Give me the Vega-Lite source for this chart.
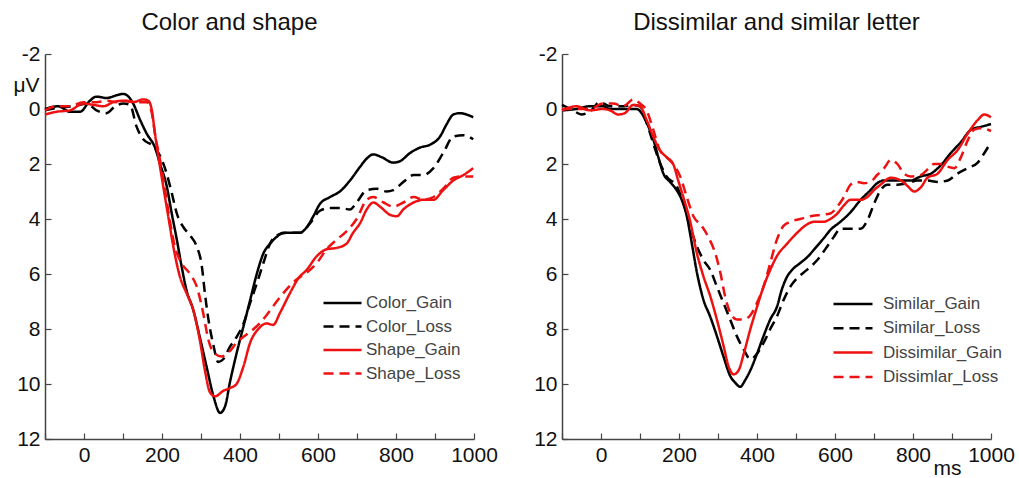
{
  "$schema": "https://vega.github.io/schema/vega-lite/v6.json",
  "background": "white",
  "padding": {"left": 12, "top": 11, "right": 5, "bottom": 3},
  "bounds": "flush",
  "spacing": 88,
  "config": {
    "view": {"stroke": null},
    "font": "Liberation Sans",
    "axis": {
      "domainColor": "#444",
      "domainWidth": 1.5,
      "tickColor": "#444",
      "tickWidth": 1.2,
      "tickSize": -6,
      "grid": false,
      "labelFlush": false,
      "labelFont": "Liberation Sans",
      "labelFontSize": 21,
      "labelColor": "#111",
      "titleFont": "Liberation Sans",
      "titleFontWeight": "normal",
      "titleColor": "#111"
    },
    "title": {"font": "Liberation Sans", "fontSize": 24, "fontWeight": "normal", "color": "#111"}
  },
  "datasets": {
    "left": [
      {"s":"Color_Gain","t":-100,"v":0.0},{"s":"Color_Gain","t":-66,"v":-0.1},{"s":"Color_Gain","t":-36,"v":0.1},{"s":"Color_Gain","t":-10,"v":0.1},{"s":"Color_Gain","t":15,"v":-0.3},{"s":"Color_Gain","t":32,"v":-0.45},{"s":"Color_Gain","t":58,"v":-0.4},{"s":"Color_Gain","t":84,"v":-0.5},{"s":"Color_Gain","t":101,"v":-0.55},{"s":"Color_Gain","t":114,"v":-0.45},{"s":"Color_Gain","t":126,"v":-0.2},{"s":"Color_Gain","t":144,"v":0.4},{"s":"Color_Gain","t":161,"v":0.9},{"s":"Color_Gain","t":182,"v":1.4},{"s":"Color_Gain","t":195,"v":2.0},{"s":"Color_Gain","t":212,"v":2.8},{"s":"Color_Gain","t":225,"v":3.8},{"s":"Color_Gain","t":238,"v":4.75},{"s":"Color_Gain","t":250,"v":5.7},{"s":"Color_Gain","t":263,"v":6.6},{"s":"Color_Gain","t":280,"v":7.3},{"s":"Color_Gain","t":297,"v":8.3},{"s":"Color_Gain","t":314,"v":9.35},{"s":"Color_Gain","t":332,"v":10.45},{"s":"Color_Gain","t":349,"v":11.05},{"s":"Color_Gain","t":362,"v":10.8},{"s":"Color_Gain","t":374,"v":9.95},{"s":"Color_Gain","t":391,"v":8.9},{"s":"Color_Gain","t":409,"v":7.9},{"s":"Color_Gain","t":426,"v":6.95},{"s":"Color_Gain","t":443,"v":6.0},{"s":"Color_Gain","t":460,"v":5.25},{"s":"Color_Gain","t":477,"v":4.9},{"s":"Color_Gain","t":494,"v":4.65},{"s":"Color_Gain","t":511,"v":4.5},{"s":"Color_Gain","t":537,"v":4.5},{"s":"Color_Gain","t":554,"v":4.5},{"s":"Color_Gain","t":571,"v":4.3},{"s":"Color_Gain","t":588,"v":3.9},{"s":"Color_Gain","t":605,"v":3.45},{"s":"Color_Gain","t":631,"v":3.2},{"s":"Color_Gain","t":656,"v":3.0},{"s":"Color_Gain","t":682,"v":2.6},{"s":"Color_Gain","t":708,"v":2.1},{"s":"Color_Gain","t":725,"v":1.8},{"s":"Color_Gain","t":742,"v":1.65},{"s":"Color_Gain","t":763,"v":1.75},{"s":"Color_Gain","t":793,"v":1.95},{"s":"Color_Gain","t":810,"v":1.9},{"s":"Color_Gain","t":836,"v":1.6},{"s":"Color_Gain","t":862,"v":1.4},{"s":"Color_Gain","t":887,"v":1.3},{"s":"Color_Gain","t":913,"v":1.0},{"s":"Color_Gain","t":930,"v":0.55},{"s":"Color_Gain","t":947,"v":0.2},{"s":"Color_Gain","t":964,"v":0.15},{"s":"Color_Gain","t":981,"v":0.2},{"s":"Color_Gain","t":998,"v":0.3},
      {"s":"Color_Loss","t":-100,"v":0.05},{"s":"Color_Loss","t":-66,"v":-0.05},{"s":"Color_Loss","t":-27,"v":-0.1},{"s":"Color_Loss","t":7,"v":-0.2},{"s":"Color_Loss","t":32,"v":0.05},{"s":"Color_Loss","t":58,"v":0.15},{"s":"Color_Loss","t":80,"v":-0.1},{"s":"Color_Loss","t":101,"v":-0.2},{"s":"Color_Loss","t":118,"v":-0.15},{"s":"Color_Loss","t":135,"v":0.65},{"s":"Color_Loss","t":152,"v":1.1},{"s":"Color_Loss","t":178,"v":1.35},{"s":"Color_Loss","t":195,"v":1.7},{"s":"Color_Loss","t":212,"v":2.35},{"s":"Color_Loss","t":225,"v":3.05},{"s":"Color_Loss","t":238,"v":3.8},{"s":"Color_Loss","t":255,"v":4.3},{"s":"Color_Loss","t":272,"v":4.6},{"s":"Color_Loss","t":289,"v":5.0},{"s":"Color_Loss","t":302,"v":5.7},{"s":"Color_Loss","t":310,"v":6.7},{"s":"Color_Loss","t":319,"v":7.65},{"s":"Color_Loss","t":332,"v":8.6},{"s":"Color_Loss","t":344,"v":9.2},{"s":"Color_Loss","t":357,"v":9.1},{"s":"Color_Loss","t":374,"v":8.65},{"s":"Color_Loss","t":391,"v":8.3},{"s":"Color_Loss","t":409,"v":7.8},{"s":"Color_Loss","t":426,"v":7.05},{"s":"Color_Loss","t":443,"v":6.35},{"s":"Color_Loss","t":460,"v":5.6},{"s":"Color_Loss","t":477,"v":4.9},{"s":"Color_Loss","t":494,"v":4.6},{"s":"Color_Loss","t":520,"v":4.5},{"s":"Color_Loss","t":554,"v":4.5},{"s":"Color_Loss","t":580,"v":4.15},{"s":"Color_Loss","t":605,"v":3.7},{"s":"Color_Loss","t":631,"v":3.6},{"s":"Color_Loss","t":656,"v":3.6},{"s":"Color_Loss","t":682,"v":3.65},{"s":"Color_Loss","t":699,"v":3.4},{"s":"Color_Loss","t":725,"v":2.95},{"s":"Color_Loss","t":750,"v":2.9},{"s":"Color_Loss","t":776,"v":3.0},{"s":"Color_Loss","t":793,"v":2.95},{"s":"Color_Loss","t":819,"v":2.65},{"s":"Color_Loss","t":845,"v":2.4},{"s":"Color_Loss","t":870,"v":2.4},{"s":"Color_Loss","t":896,"v":2.15},{"s":"Color_Loss","t":921,"v":1.6},{"s":"Color_Loss","t":947,"v":1.0},{"s":"Color_Loss","t":973,"v":0.95},{"s":"Color_Loss","t":998,"v":1.1},
      {"s":"Shape_Gain","t":-100,"v":0.2},{"s":"Shape_Gain","t":-70,"v":0.1},{"s":"Shape_Gain","t":-36,"v":0.05},{"s":"Shape_Gain","t":-2,"v":-0.2},{"s":"Shape_Gain","t":24,"v":-0.15},{"s":"Shape_Gain","t":50,"v":-0.1},{"s":"Shape_Gain","t":75,"v":-0.25},{"s":"Shape_Gain","t":101,"v":-0.3},{"s":"Shape_Gain","t":126,"v":-0.25},{"s":"Shape_Gain","t":152,"v":-0.35},{"s":"Shape_Gain","t":165,"v":-0.3},{"s":"Shape_Gain","t":174,"v":0.05},{"s":"Shape_Gain","t":182,"v":0.9},{"s":"Shape_Gain","t":191,"v":1.75},{"s":"Shape_Gain","t":203,"v":2.8},{"s":"Shape_Gain","t":216,"v":3.9},{"s":"Shape_Gain","t":229,"v":5.0},{"s":"Shape_Gain","t":246,"v":6.1},{"s":"Shape_Gain","t":263,"v":6.7},{"s":"Shape_Gain","t":280,"v":7.3},{"s":"Shape_Gain","t":297,"v":8.4},{"s":"Shape_Gain","t":310,"v":9.5},{"s":"Shape_Gain","t":323,"v":10.3},{"s":"Shape_Gain","t":336,"v":10.45},{"s":"Shape_Gain","t":357,"v":10.25},{"s":"Shape_Gain","t":374,"v":10.15},{"s":"Shape_Gain","t":391,"v":10.0},{"s":"Shape_Gain","t":409,"v":9.35},{"s":"Shape_Gain","t":426,"v":8.5},{"s":"Shape_Gain","t":447,"v":8.0},{"s":"Shape_Gain","t":468,"v":7.8},{"s":"Shape_Gain","t":485,"v":7.85},{"s":"Shape_Gain","t":503,"v":7.4},{"s":"Shape_Gain","t":528,"v":6.7},{"s":"Shape_Gain","t":550,"v":6.15},{"s":"Shape_Gain","t":571,"v":5.85},{"s":"Shape_Gain","t":597,"v":5.35},{"s":"Shape_Gain","t":622,"v":5.1},{"s":"Shape_Gain","t":648,"v":5.05},{"s":"Shape_Gain","t":673,"v":4.9},{"s":"Shape_Gain","t":690,"v":4.5},{"s":"Shape_Gain","t":708,"v":4.15},{"s":"Shape_Gain","t":725,"v":3.65},{"s":"Shape_Gain","t":742,"v":3.4},{"s":"Shape_Gain","t":759,"v":3.55},{"s":"Shape_Gain","t":785,"v":3.85},{"s":"Shape_Gain","t":802,"v":3.9},{"s":"Shape_Gain","t":819,"v":3.65},{"s":"Shape_Gain","t":845,"v":3.4},{"s":"Shape_Gain","t":870,"v":3.3},{"s":"Shape_Gain","t":896,"v":3.3},{"s":"Shape_Gain","t":921,"v":2.95},{"s":"Shape_Gain","t":947,"v":2.6},{"s":"Shape_Gain","t":973,"v":2.4},{"s":"Shape_Gain","t":998,"v":2.15},
      {"s":"Shape_Loss","t":-100,"v":0.05},{"s":"Shape_Loss","t":-70,"v":-0.1},{"s":"Shape_Loss","t":-36,"v":-0.1},{"s":"Shape_Loss","t":-2,"v":-0.25},{"s":"Shape_Loss","t":32,"v":-0.25},{"s":"Shape_Loss","t":58,"v":-0.3},{"s":"Shape_Loss","t":84,"v":-0.25},{"s":"Shape_Loss","t":109,"v":-0.3},{"s":"Shape_Loss","t":135,"v":-0.25},{"s":"Shape_Loss","t":161,"v":-0.25},{"s":"Shape_Loss","t":174,"v":0.15},{"s":"Shape_Loss","t":182,"v":0.9},{"s":"Shape_Loss","t":195,"v":1.85},{"s":"Shape_Loss","t":208,"v":2.95},{"s":"Shape_Loss","t":220,"v":4.05},{"s":"Shape_Loss","t":233,"v":5.0},{"s":"Shape_Loss","t":250,"v":5.6},{"s":"Shape_Loss","t":272,"v":6.0},{"s":"Shape_Loss","t":289,"v":6.45},{"s":"Shape_Loss","t":306,"v":7.45},{"s":"Shape_Loss","t":319,"v":8.4},{"s":"Shape_Loss","t":336,"v":8.9},{"s":"Shape_Loss","t":353,"v":9.0},{"s":"Shape_Loss","t":374,"v":8.8},{"s":"Shape_Loss","t":391,"v":8.5},{"s":"Shape_Loss","t":417,"v":8.2},{"s":"Shape_Loss","t":443,"v":7.9},{"s":"Shape_Loss","t":468,"v":7.5},{"s":"Shape_Loss","t":494,"v":7.0},{"s":"Shape_Loss","t":520,"v":6.55},{"s":"Shape_Loss","t":545,"v":6.2},{"s":"Shape_Loss","t":571,"v":5.95},{"s":"Shape_Loss","t":597,"v":5.6},{"s":"Shape_Loss","t":622,"v":5.1},{"s":"Shape_Loss","t":648,"v":4.75},{"s":"Shape_Loss","t":673,"v":4.45},{"s":"Shape_Loss","t":699,"v":4.0},{"s":"Shape_Loss","t":725,"v":3.3},{"s":"Shape_Loss","t":742,"v":3.2},{"s":"Shape_Loss","t":768,"v":3.4},{"s":"Shape_Loss","t":793,"v":3.55},{"s":"Shape_Loss","t":819,"v":3.4},{"s":"Shape_Loss","t":845,"v":3.2},{"s":"Shape_Loss","t":870,"v":3.3},{"s":"Shape_Loss","t":896,"v":3.2},{"s":"Shape_Loss","t":921,"v":2.9},{"s":"Shape_Loss","t":947,"v":2.5},{"s":"Shape_Loss","t":973,"v":2.45},{"s":"Shape_Loss","t":998,"v":2.45}
    ],
    "right": [
      {"s":"Similar_Gain","t":-100,"v":0.05},{"s":"Similar_Gain","t":-63,"v":0.0},{"s":"Similar_Gain","t":-29,"v":-0.1},{"s":"Similar_Gain","t":5,"v":-0.1},{"s":"Similar_Gain","t":23,"v":0.0},{"s":"Similar_Gain","t":57,"v":0.0},{"s":"Similar_Gain","t":91,"v":0.0},{"s":"Similar_Gain","t":104,"v":0.15},{"s":"Similar_Gain","t":117,"v":0.5},{"s":"Similar_Gain","t":134,"v":1.1},{"s":"Similar_Gain","t":147,"v":1.75},{"s":"Similar_Gain","t":160,"v":2.35},{"s":"Similar_Gain","t":177,"v":2.65},{"s":"Similar_Gain","t":194,"v":2.95},{"s":"Similar_Gain","t":207,"v":3.3},{"s":"Similar_Gain","t":220,"v":3.9},{"s":"Similar_Gain","t":233,"v":4.9},{"s":"Similar_Gain","t":246,"v":5.95},{"s":"Similar_Gain","t":263,"v":6.95},{"s":"Similar_Gain","t":280,"v":7.55},{"s":"Similar_Gain","t":297,"v":8.25},{"s":"Similar_Gain","t":314,"v":9.0},{"s":"Similar_Gain","t":331,"v":9.7},{"s":"Similar_Gain","t":344,"v":9.95},{"s":"Similar_Gain","t":357,"v":10.1},{"s":"Similar_Gain","t":370,"v":9.85},{"s":"Similar_Gain","t":383,"v":9.5},{"s":"Similar_Gain","t":400,"v":8.9},{"s":"Similar_Gain","t":417,"v":8.25},{"s":"Similar_Gain","t":434,"v":7.65},{"s":"Similar_Gain","t":451,"v":7.2},{"s":"Similar_Gain","t":464,"v":6.55},{"s":"Similar_Gain","t":477,"v":6.1},{"s":"Similar_Gain","t":490,"v":5.85},{"s":"Similar_Gain","t":511,"v":5.6},{"s":"Similar_Gain","t":528,"v":5.4},{"s":"Similar_Gain","t":550,"v":5.05},{"s":"Similar_Gain","t":571,"v":4.7},{"s":"Similar_Gain","t":588,"v":4.4},{"s":"Similar_Gain","t":614,"v":4.1},{"s":"Similar_Gain","t":640,"v":3.75},{"s":"Similar_Gain","t":666,"v":3.3},{"s":"Similar_Gain","t":691,"v":2.95},{"s":"Similar_Gain","t":708,"v":2.7},{"s":"Similar_Gain","t":726,"v":2.6},{"s":"Similar_Gain","t":751,"v":2.6},{"s":"Similar_Gain","t":777,"v":2.6},{"s":"Similar_Gain","t":794,"v":2.6},{"s":"Similar_Gain","t":820,"v":2.45},{"s":"Similar_Gain","t":846,"v":2.35},{"s":"Similar_Gain","t":871,"v":2.05},{"s":"Similar_Gain","t":897,"v":1.6},{"s":"Similar_Gain","t":923,"v":1.2},{"s":"Similar_Gain","t":949,"v":0.75},{"s":"Similar_Gain","t":974,"v":0.65},{"s":"Similar_Gain","t":1000,"v":0.55},
      {"s":"Similar_Loss","t":-100,"v":-0.15},{"s":"Similar_Loss","t":-72,"v":0.05},{"s":"Similar_Loss","t":-50,"v":0.2},{"s":"Similar_Loss","t":-25,"v":0.05},{"s":"Similar_Loss","t":-3,"v":-0.25},{"s":"Similar_Loss","t":23,"v":-0.1},{"s":"Similar_Loss","t":57,"v":-0.1},{"s":"Similar_Loss","t":83,"v":-0.15},{"s":"Similar_Loss","t":100,"v":-0.1},{"s":"Similar_Loss","t":117,"v":0.5},{"s":"Similar_Loss","t":134,"v":1.25},{"s":"Similar_Loss","t":151,"v":1.95},{"s":"Similar_Loss","t":168,"v":2.45},{"s":"Similar_Loss","t":194,"v":2.8},{"s":"Similar_Loss","t":211,"v":3.4},{"s":"Similar_Loss","t":228,"v":4.25},{"s":"Similar_Loss","t":246,"v":5.0},{"s":"Similar_Loss","t":263,"v":5.5},{"s":"Similar_Loss","t":280,"v":5.85},{"s":"Similar_Loss","t":297,"v":6.45},{"s":"Similar_Loss","t":314,"v":7.05},{"s":"Similar_Loss","t":331,"v":7.65},{"s":"Similar_Loss","t":348,"v":8.25},{"s":"Similar_Loss","t":366,"v":8.75},{"s":"Similar_Loss","t":383,"v":9.1},{"s":"Similar_Loss","t":400,"v":8.9},{"s":"Similar_Loss","t":417,"v":8.5},{"s":"Similar_Loss","t":434,"v":8.0},{"s":"Similar_Loss","t":451,"v":7.55},{"s":"Similar_Loss","t":468,"v":6.95},{"s":"Similar_Loss","t":486,"v":6.45},{"s":"Similar_Loss","t":503,"v":6.15},{"s":"Similar_Loss","t":528,"v":5.85},{"s":"Similar_Loss","t":554,"v":5.5},{"s":"Similar_Loss","t":580,"v":5.0},{"s":"Similar_Loss","t":597,"v":4.65},{"s":"Similar_Loss","t":614,"v":4.35},{"s":"Similar_Loss","t":640,"v":4.35},{"s":"Similar_Loss","t":666,"v":4.35},{"s":"Similar_Loss","t":683,"v":4.05},{"s":"Similar_Loss","t":700,"v":3.45},{"s":"Similar_Loss","t":717,"v":2.95},{"s":"Similar_Loss","t":734,"v":2.75},{"s":"Similar_Loss","t":760,"v":2.75},{"s":"Similar_Loss","t":786,"v":2.7},{"s":"Similar_Loss","t":812,"v":2.6},{"s":"Similar_Loss","t":837,"v":2.6},{"s":"Similar_Loss","t":863,"v":2.65},{"s":"Similar_Loss","t":889,"v":2.6},{"s":"Similar_Loss","t":914,"v":2.35},{"s":"Similar_Loss","t":940,"v":2.15},{"s":"Similar_Loss","t":966,"v":1.95},{"s":"Similar_Loss","t":983,"v":1.6},{"s":"Similar_Loss","t":1000,"v":1.2},
      {"s":"Dissimilar_Gain","t":-100,"v":0.05},{"s":"Dissimilar_Gain","t":-63,"v":-0.1},{"s":"Dissimilar_Gain","t":-29,"v":0.05},{"s":"Dissimilar_Gain","t":5,"v":0.0},{"s":"Dissimilar_Gain","t":23,"v":0.05},{"s":"Dissimilar_Gain","t":44,"v":0.2},{"s":"Dissimilar_Gain","t":61,"v":0.15},{"s":"Dissimilar_Gain","t":83,"v":-0.15},{"s":"Dissimilar_Gain","t":100,"v":-0.1},{"s":"Dissimilar_Gain","t":117,"v":0.4},{"s":"Dissimilar_Gain","t":134,"v":1.0},{"s":"Dissimilar_Gain","t":151,"v":1.5},{"s":"Dissimilar_Gain","t":168,"v":1.75},{"s":"Dissimilar_Gain","t":185,"v":2.0},{"s":"Dissimilar_Gain","t":198,"v":2.6},{"s":"Dissimilar_Gain","t":211,"v":3.2},{"s":"Dissimilar_Gain","t":228,"v":4.05},{"s":"Dissimilar_Gain","t":246,"v":5.25},{"s":"Dissimilar_Gain","t":263,"v":6.1},{"s":"Dissimilar_Gain","t":280,"v":6.8},{"s":"Dissimilar_Gain","t":297,"v":7.65},{"s":"Dissimilar_Gain","t":314,"v":8.6},{"s":"Dissimilar_Gain","t":327,"v":9.35},{"s":"Dissimilar_Gain","t":340,"v":9.65},{"s":"Dissimilar_Gain","t":353,"v":9.5},{"s":"Dissimilar_Gain","t":366,"v":8.9},{"s":"Dissimilar_Gain","t":383,"v":8.0},{"s":"Dissimilar_Gain","t":400,"v":7.2},{"s":"Dissimilar_Gain","t":417,"v":6.45},{"s":"Dissimilar_Gain","t":434,"v":5.85},{"s":"Dissimilar_Gain","t":451,"v":5.35},{"s":"Dissimilar_Gain","t":477,"v":4.9},{"s":"Dissimilar_Gain","t":503,"v":4.5},{"s":"Dissimilar_Gain","t":528,"v":4.2},{"s":"Dissimilar_Gain","t":546,"v":4.1},{"s":"Dissimilar_Gain","t":571,"v":4.1},{"s":"Dissimilar_Gain","t":588,"v":4.0},{"s":"Dissimilar_Gain","t":606,"v":3.8},{"s":"Dissimilar_Gain","t":623,"v":3.5},{"s":"Dissimilar_Gain","t":640,"v":3.3},{"s":"Dissimilar_Gain","t":666,"v":3.3},{"s":"Dissimilar_Gain","t":683,"v":3.2},{"s":"Dissimilar_Gain","t":700,"v":2.95},{"s":"Dissimilar_Gain","t":717,"v":2.75},{"s":"Dissimilar_Gain","t":743,"v":2.5},{"s":"Dissimilar_Gain","t":769,"v":2.6},{"s":"Dissimilar_Gain","t":786,"v":2.8},{"s":"Dissimilar_Gain","t":803,"v":3.0},{"s":"Dissimilar_Gain","t":820,"v":2.85},{"s":"Dissimilar_Gain","t":837,"v":2.5},{"s":"Dissimilar_Gain","t":863,"v":2.35},{"s":"Dissimilar_Gain","t":889,"v":1.85},{"s":"Dissimilar_Gain","t":914,"v":1.5},{"s":"Dissimilar_Gain","t":940,"v":0.9},{"s":"Dissimilar_Gain","t":966,"v":0.4},{"s":"Dissimilar_Gain","t":983,"v":0.2},{"s":"Dissimilar_Gain","t":1000,"v":0.3},
      {"s":"Dissimlar_Loss","t":-100,"v":0.0},{"s":"Dissimlar_Loss","t":-63,"v":0.0},{"s":"Dissimlar_Loss","t":-29,"v":0.0},{"s":"Dissimlar_Loss","t":5,"v":-0.2},{"s":"Dissimlar_Loss","t":31,"v":-0.2},{"s":"Dissimlar_Loss","t":57,"v":-0.1},{"s":"Dissimlar_Loss","t":83,"v":-0.35},{"s":"Dissimlar_Loss","t":100,"v":-0.2},{"s":"Dissimlar_Loss","t":117,"v":0.05},{"s":"Dissimlar_Loss","t":134,"v":0.75},{"s":"Dissimlar_Loss","t":151,"v":1.5},{"s":"Dissimlar_Loss","t":168,"v":1.75},{"s":"Dissimlar_Loss","t":185,"v":2.0},{"s":"Dissimlar_Loss","t":203,"v":2.45},{"s":"Dissimlar_Loss","t":220,"v":3.2},{"s":"Dissimlar_Loss","t":237,"v":3.9},{"s":"Dissimlar_Loss","t":258,"v":4.25},{"s":"Dissimlar_Loss","t":275,"v":4.65},{"s":"Dissimlar_Loss","t":293,"v":5.25},{"s":"Dissimlar_Loss","t":306,"v":5.95},{"s":"Dissimlar_Loss","t":318,"v":6.8},{"s":"Dissimlar_Loss","t":331,"v":7.4},{"s":"Dissimlar_Loss","t":348,"v":7.65},{"s":"Dissimlar_Loss","t":366,"v":7.65},{"s":"Dissimlar_Loss","t":383,"v":7.5},{"s":"Dissimlar_Loss","t":400,"v":7.05},{"s":"Dissimlar_Loss","t":417,"v":6.45},{"s":"Dissimlar_Loss","t":434,"v":5.6},{"s":"Dissimlar_Loss","t":451,"v":4.75},{"s":"Dissimlar_Loss","t":468,"v":4.25},{"s":"Dissimlar_Loss","t":486,"v":4.1},{"s":"Dissimlar_Loss","t":511,"v":4.0},{"s":"Dissimlar_Loss","t":537,"v":3.9},{"s":"Dissimlar_Loss","t":563,"v":3.85},{"s":"Dissimlar_Loss","t":588,"v":3.8},{"s":"Dissimlar_Loss","t":606,"v":3.55},{"s":"Dissimlar_Loss","t":623,"v":3.2},{"s":"Dissimlar_Loss","t":640,"v":2.75},{"s":"Dissimlar_Loss","t":657,"v":2.65},{"s":"Dissimlar_Loss","t":674,"v":2.7},{"s":"Dissimlar_Loss","t":691,"v":2.65},{"s":"Dissimlar_Loss","t":708,"v":2.4},{"s":"Dissimlar_Loss","t":726,"v":2.15},{"s":"Dissimlar_Loss","t":743,"v":1.85},{"s":"Dissimlar_Loss","t":760,"v":2.0},{"s":"Dissimlar_Loss","t":777,"v":2.35},{"s":"Dissimlar_Loss","t":794,"v":2.45},{"s":"Dissimlar_Loss","t":820,"v":2.4},{"s":"Dissimlar_Loss","t":837,"v":2.2},{"s":"Dissimlar_Loss","t":854,"v":2.0},{"s":"Dissimlar_Loss","t":871,"v":2.0},{"s":"Dissimlar_Loss","t":889,"v":2.1},{"s":"Dissimlar_Loss","t":906,"v":2.15},{"s":"Dissimlar_Loss","t":923,"v":1.75},{"s":"Dissimlar_Loss","t":940,"v":1.15},{"s":"Dissimlar_Loss","t":957,"v":0.75},{"s":"Dissimlar_Loss","t":974,"v":0.7},{"s":"Dissimlar_Loss","t":1000,"v":0.8}
    ]
  },
  "hconcat": [
    {
      "width": 429,
      "height": 385,
      "title": {"text": "Color and shape", "offset": -11, "dx": -30, "baseline": "alphabetic"},
      "data": {"name": "left"},
      "mark": {"type": "line", "strokeWidth": 2.5, "interpolate": "monotone"},
      "encoding": {
        "x": {"field": "t", "type": "quantitative", "scale": {"domain": [-100, 1000], "nice": false},
              "axis": {"values": [-100,0,100,200,300,400,500,600,700,800,900,1000], "labelExpr": "datum.value % 200 == 0 ? '' + datum.value : ''", "title": null, "labelPadding": 11}},
        "y": {"field": "v", "type": "quantitative", "scale": {"domain": [-2, 12], "reverse": true, "nice": false},
              "axis": {"values": [-2,0,2,4,6,8,10,12], "labelExpr": "'' + datum.value", "title": "μV", "titleAngle": 0, "titleX": -19, "titleY": 31, "titleAlign": "center", "titleBaseline": "middle", "titleFontSize": 21, "labelPadding": 11}},
        "color": {"field": "s", "type": "nominal",
                  "scale": {"domain": ["Color_Gain","Color_Loss","Shape_Gain","Shape_Loss"], "range": ["#000000","#000000","#ee1111","#ee1111"]},
                  "legend": {"orient": "none", "legendX": 277, "legendY": 239, "title": null, "symbolType": "stroke", "symbolSize": 1444, "symbolStrokeWidth": 2.5, "labelFontSize": 17, "labelColor": "#444", "labelOffset": 3, "clipHeight": 20, "rowPadding": 3.5}},
        "strokeDash": {"field": "s", "type": "nominal",
                  "scale": {"domain": ["Color_Gain","Color_Loss","Shape_Gain","Shape_Loss"], "range": [[1,0],[10,6],[1,0],[10,6]]},
                  "legend": {"orient": "none", "legendX": 277, "legendY": 239, "title": null, "symbolType": "stroke", "symbolSize": 1444, "symbolStrokeWidth": 2.5, "labelFontSize": 17, "labelColor": "#444", "labelOffset": 3, "clipHeight": 20, "rowPadding": 3.5}}
      }
    },
    {
      "width": 429,
      "height": 385,
      "title": {"text": "Dissimilar and similar letter", "offset": -11, "baseline": "alphabetic"},
      "data": {"name": "right"},
      "mark": {"type": "line", "strokeWidth": 2.5, "interpolate": "monotone"},
      "encoding": {
        "x": {"field": "t", "type": "quantitative", "scale": {"domain": [-100, 1000], "nice": false},
              "axis": {"values": [-100,0,100,200,300,400,500,600,700,800,900,1000], "labelExpr": "datum.value % 200 == 0 ? '' + datum.value : ''", "title": "ms", "titleX": 385, "titleY": 35, "titleAlign": "center", "titleBaseline": "alphabetic", "titleFontSize": 21, "labelPadding": 11}},
        "y": {"field": "v", "type": "quantitative", "scale": {"domain": [-2, 12], "reverse": true, "nice": false},
              "axis": {"values": [-2,0,2,4,6,8,10,12], "labelExpr": "'' + datum.value", "title": null, "labelPadding": 11}},
        "color": {"field": "s", "type": "nominal",
                  "scale": {"domain": ["Similar_Gain","Similar_Loss","Dissimilar_Gain","Dissimlar_Loss"], "range": ["#000000","#000000","#ee1111","#ee1111"]},
                  "legend": {"orient": "none", "legendX": 270, "legendY": 240, "title": null, "symbolType": "stroke", "symbolSize": 1521, "symbolStrokeWidth": 2.5, "labelFontSize": 17, "labelColor": "#444", "labelOffset": 9, "clipHeight": 20, "rowPadding": 4.3}},
        "strokeDash": {"field": "s", "type": "nominal",
                  "scale": {"domain": ["Similar_Gain","Similar_Loss","Dissimilar_Gain","Dissimlar_Loss"], "range": [[1,0],[10,6],[1,0],[10,6]]},
                  "legend": {"orient": "none", "legendX": 270, "legendY": 240, "title": null, "symbolType": "stroke", "symbolSize": 1521, "symbolStrokeWidth": 2.5, "labelFontSize": 17, "labelColor": "#444", "labelOffset": 9, "clipHeight": 20, "rowPadding": 4.3}}
      }
    }
  ],
  "resolve": {"scale": {"color": "independent", "strokeDash": "independent", "x": "independent", "y": "independent"}, "legend": {"color": "independent", "strokeDash": "independent"}}
}
